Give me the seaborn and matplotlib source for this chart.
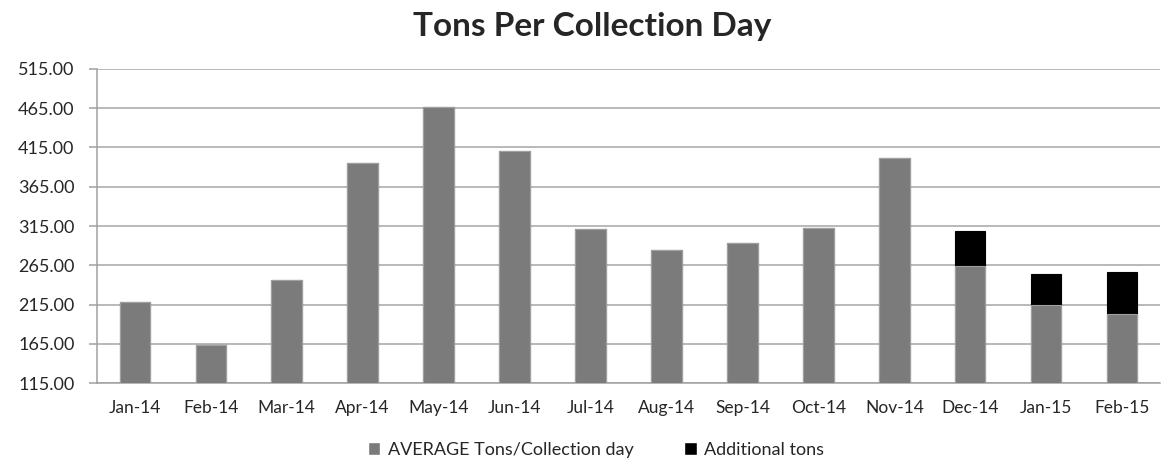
import numpy as np
import pandas as pd
import seaborn as sns
import matplotlib.pyplot as plt
from matplotlib.patches import Patch
from matplotlib.ticker import FixedLocator, FormatStrFormatter

months = ['Jan-14', 'Feb-14', 'Mar-14', 'Apr-14', 'May-14', 'Jun-14', 'Jul-14',
          'Aug-14', 'Sep-14', 'Oct-14', 'Nov-14', 'Dec-14', 'Jan-15', 'Feb-15']
avg_tons = [218.6, 163.8, 246.2, 394.8, 466.2, 410.5, 311.6,
            284.0, 293.3, 312.5, 401.2, 264.5, 213.9, 203.3]
extra_tons = [0, 0, 0, 0, 0, 0, 0, 0, 0, 0, 0, 43.7, 39.5, 53.1]
yticks = [115, 165, 215, 265, 315, 365, 415, 465, 515]

df = pd.DataFrame({'month': months, 'avg': avg_tons, 'extra': extra_tons})
df['total'] = df['avg'] + df['extra']

sns.set_style('white')
plt.rcParams['font.family'] = ['Lato', 'DejaVu Sans']

fig, ax = plt.subplots(figsize=(11.66, 4.66), dpi=100)
fig.subplots_adjust(left=0.083, right=0.995, top=0.852, bottom=0.178)

gray = '#7b7b7b'
sns.barplot(data=df, x='month', y='total', color='black', width=0.4,
            saturation=1, edgecolor='black', linewidth=0.8, ax=ax, zorder=3)
sns.barplot(data=df, x='month', y='avg', color=gray, width=0.4,
            saturation=1, edgecolor='#a0a0a0', linewidth=0.8, ax=ax, zorder=4)

ax.set_ylim(115, 515)
ax.set_xlim(-0.5, len(months) - 0.5)
ax.set_yticks(yticks)
ax.yaxis.set_major_formatter(FormatStrFormatter('%.2f'))
ax.grid(axis='y', color='#a6a6a6', linewidth=1.1, zorder=0)
ax.set_axisbelow(True)

for s in ['top', 'right']:
    ax.spines[s].set_visible(False)
for s in ['left', 'bottom']:
    ax.spines[s].set_color('#a0a0a0')
    ax.spines[s].set_linewidth(1.1)

ax.tick_params(axis='x', which='major', length=0, labelsize=12.5, pad=12)
ax.xaxis.set_minor_locator(FixedLocator(np.arange(-0.5, len(months), 1)))
ax.tick_params(axis='x', which='minor', length=6, color='#a0a0a0', width=1.1, direction='out')
ax.tick_params(axis='y', length=6, color='#a0a0a0', width=1.1, labelsize=13, pad=10, left=True)

ax.set_xlabel('')
ax.set_ylabel('')
fig.suptitle('Tons Per Collection Day', fontsize=24, fontweight='bold',
             x=0.508, y=0.975, va='top')

handles = [Patch(facecolor=gray, label='AVERAGE Tons/Collection day'),
           Patch(facecolor='black', label='Additional tons')]
fig.legend(handles=handles, loc='lower center', ncol=2, frameon=False,
           fontsize=13, bbox_to_anchor=(0.511, -0.018), handlelength=0.7,
           handleheight=0.7, columnspacing=2.8, handletextpad=0.4)

fig.savefig('out.png', dpi=100)
